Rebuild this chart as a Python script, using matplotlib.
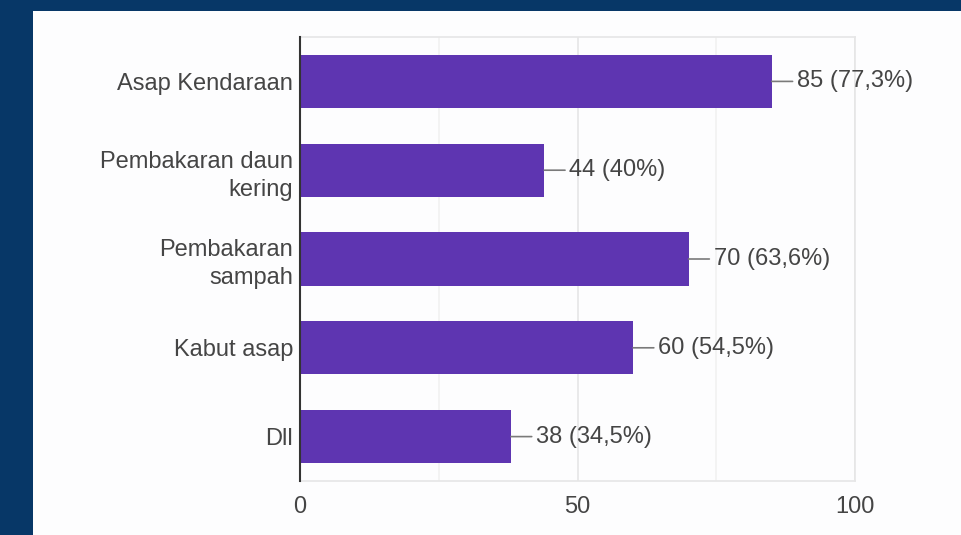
import matplotlib
matplotlib.use("Agg")
import matplotlib.pyplot as plt

plt.rcParams['font.family'] = ['Liberation Sans', 'DejaVu Sans']

categories = ["Asap Kendaraan", "Pembakaran daun\nkering", "Pembakaran\nsampah", "Kabut asap", "Dll"]
counts = [85, 44, 70, 60, 38]
percents = ["77,3%", "40%", "63,6%", "54,5%", "34,5%"]
x_ticks = [0, 50, 100]
x_minor = [25, 75]

navy = "#073767"
purple = "#5e35b1"
text_col = "#454545"

fig = plt.figure(figsize=(9.61, 5.35), dpi=100)
fig.patch.set_facecolor(navy)

# white card behind the chart
bg = fig.add_axes([33 / 961, 0, 1 - 33 / 961, 1 - 11 / 535], zorder=-1)
bg.set_facecolor("#fdfdfe")
bg.set_xticks([])
bg.set_yticks([])
for s in bg.spines.values():
    s.set_visible(False)

ax = fig.add_axes([300 / 961, 1 - 481 / 535, 555 / 961, 444 / 535])
ax.set_facecolor("none")

ypos = list(range(len(categories)))
ax.barh(ypos, counts, height=0.6, color=purple, zorder=3)

for y, c, p in zip(ypos, counts, percents):
    ax.annotate(f"{c} ({p})", xy=(c, y), xytext=(18, 0), textcoords="offset points",
                ha="left", va="center", fontsize=17, color=text_col,
                arrowprops=dict(arrowstyle="-", color="#7a7a7a", lw=1.2,
                                shrinkA=1, shrinkB=0), zorder=4)

ax.set_xlim(0, 100)
ax.set_ylim(len(categories) - 0.5, -0.5)
ax.set_yticks(ypos)
ax.set_yticklabels(categories, fontsize=17, color=text_col, linespacing=1.35)
ax.set_xticks(x_ticks)
ax.set_xticks(x_minor, minor=True)
ax.tick_params(axis="x", which="both", length=0, pad=11, labelsize=17, labelcolor=text_col)
ax.tick_params(axis="y", length=0, pad=5)
ax.grid(axis="x", which="major", color="#e6e6e6", lw=1.2, zorder=0)
ax.grid(axis="x", which="minor", color="#f1f1f1", lw=1.2, zorder=0)

for s in ["top", "right", "bottom"]:
    ax.spines[s].set_color("#e6e6e6")
    ax.spines[s].set_linewidth(1.2)
ax.spines["left"].set_color("#333333")
ax.spines["left"].set_linewidth(1.5)
ax.spines["left"].set_zorder(5)

fig.savefig("out.png", dpi=100, facecolor=fig.get_facecolor())
